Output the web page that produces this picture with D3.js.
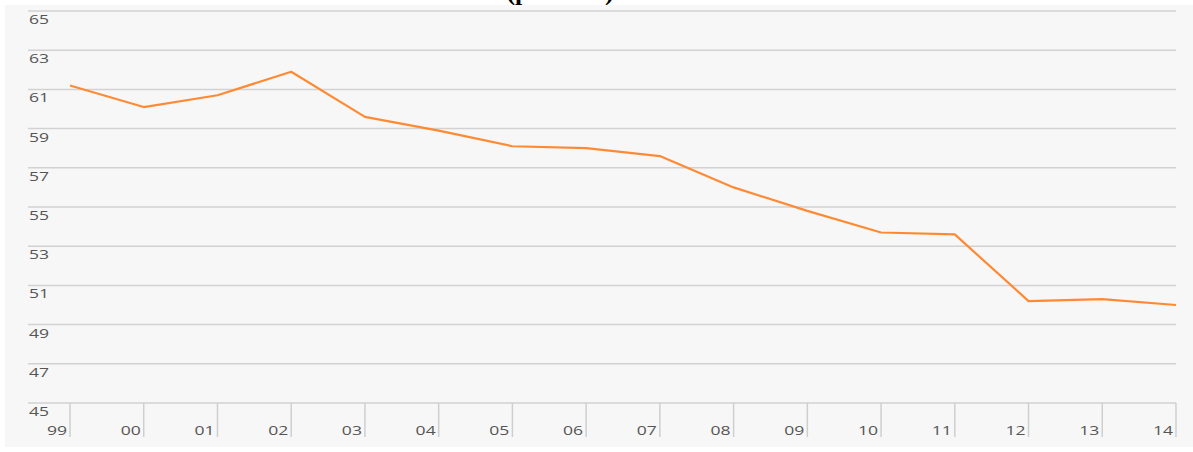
<!DOCTYPE html>
<html>
<head>
<meta charset="utf-8">
<script src="https://cdn.jsdelivr.net/npm/d3@7"></script>
<style>
  body { margin: 0; background: #fff; }
  svg { display: block; }
  .tick_label { font-family: 'Open Sans', sans-serif; font-size: 13px; fill: #555; }
</style>
</head>
<body>
<svg id="main_chart" width="1193" height="452"></svg>
<script>
(function() {
  const years = ['99', '00', '01', '02', '03', '04', '05', '06', '07', '08', '09', '10', '11', '12', '13', '14'];
  const values = [61.2, 60.1, 60.7, 61.9, 59.6, 58.9, 58.1, 58.0, 57.6, 56.0, 54.8, 53.7, 53.6, 50.2, 50.3, 50.0];
  const y_ticks = [45, 47, 49, 51, 53, 55, 57, 59, 61, 63, 65];
  const title = '(per cent)';

  const svg = d3.select('#main_chart');

  // title sits mostly above the picture, only its lower edge shows
  svg.append('text').attr('x', 560).attr('y', 0).attr('text-anchor', 'middle')
    .style('font-family', "'Liberation Serif', serif").style('font-size', '26px').style('font-weight', 'bold')
    .text(title);

  svg.append('rect').attr('x', 5).attr('y', 5).attr('width', 1188).attr('height', 442).attr('fill', '#f7f7f7');

  const xScale = d3.scaleLinear().domain([0, years.length - 1]).range([70, 1176]);
  const yScale = d3.scaleLinear().domain([45, 65]).range([403, 11]);

  // horizontal grid lines + labels
  const grid = svg.append('g').attr('id', 'grid');
  grid.selectAll('line').data(y_ticks).enter().append('line')
    .attr('x1', 28).attr('x2', 1176)
    .attr('y1', function(d) { return yScale(d); })
    .attr('y2', function(d) { return yScale(d); })
    .attr('stroke', '#d2d2d2').attr('stroke-width', 1.5);
  grid.selectAll('text').data(y_ticks).enter().append('text')
    .attr('class', 'tick_label')
    .attr('transform', function(d) { return 'translate(29,' + (yScale(d) + 13) + ') scale(1.35,1)'; })
    .text(function(d) { return d; });

  // x ticks
  const x_axis = svg.append('g').attr('id', 'x_axis');
  x_axis.selectAll('line').data(years).enter().append('line')
    .attr('x1', function(d, i) { return xScale(i); })
    .attr('x2', function(d, i) { return xScale(i); })
    .attr('y1', 403).attr('y2', 437)
    .attr('stroke', '#cfcfcf').attr('stroke-width', 1.5);
  x_axis.selectAll('text').data(years).enter().append('text')
    .attr('class', 'tick_label').attr('text-anchor', 'end')
    .attr('transform', function(d, i) { return 'translate(' + (xScale(i) - 3) + ',435) scale(1.35,1)'; })
    .text(function(d) { return d; });

  const line = d3.line()
    .x(function(d, i) { return xScale(i); })
    .y(function(d) { return yScale(d); });
  svg.append('path').datum(values)
    .attr('d', line)
    .attr('fill', 'none')
    .attr('stroke', '#ff8a33')
    .attr('stroke-width', 2.2)
    .attr('stroke-linejoin', 'round');
}());
</script>
</body>
</html>
